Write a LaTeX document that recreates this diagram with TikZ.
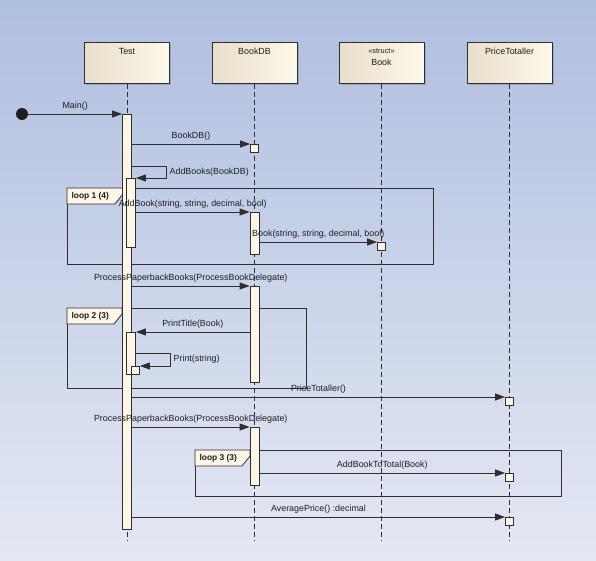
\documentclass[tikz,border=0pt]{standalone}
\usepackage{fontspec}
\setmainfont{Liberation Sans}
\usepackage{xcolor}
\usetikzlibrary{arrows.meta, shadows}

\definecolor{bgT}{HTML}{AFBFE0}
\definecolor{bgB}{HTML}{E4E8F3}
\definecolor{headL}{HTML}{E8DECB}
\definecolor{headR}{HTML}{FEF8EA}
\definecolor{cream}{HTML}{FDF6E6}
\definecolor{ink}{HTML}{2E2E2E}
\definecolor{txt}{HTML}{1E1E1E}

\begin{document}
\begin{tikzpicture}[x=1pt, y=-1pt, font=\fontsize{8.9}{10}\selectfont, text=txt]
	\tikzstyle{head}=[draw=ink, line width=0.8pt, left color=headL, right color=headR, minimum width=85pt, minimum height=41pt, anchor=north, drop shadow={shadow xshift=1.5pt, shadow yshift=-1.5pt, opacity=0.45}]
	\tikzstyle{lifeline}=[draw=ink, line width=0.8pt, dash pattern=on 5pt off 3pt]
	\tikzstyle{act}=[draw=ink, line width=0.8pt, fill=cream, minimum width=9pt, inner sep=0pt, anchor=north]
	\tikzstyle{stub}=[act, minimum width=8pt, minimum height=8pt]
	\tikzstyle{msg}=[draw=ink, line width=0.8pt, -{Triangle[length=10pt,width=7pt]}]
	\tikzstyle{loopframe}=[draw=ink, line width=0.8pt, anchor=north west, inner sep=0pt]
	\tikzstyle{tag}=[draw=ink, line width=0.8pt, fill=cream]
	\tikzstyle{tagtext}=[anchor=west, font=\bfseries\fontsize{8.4}{9}\selectfont]

	\fill[top color=bgT, bottom color=bgB] (0,0) rectangle (596,560);
	\useasboundingbox (0,0) rectangle (596,560);

	% loops
	\node[loopframe, minimum width=366pt, minimum height=76pt] (loopA) at (67,188) {};
	\draw[tag] (loopA.north west) -- ++(56,0) -- ++(0,6) -- ++(-8,10) -- ++(-48,0) -- cycle;
	\node[tagtext] (loopAtxt) at ([xshift=1pt, yshift=-8pt]loopA.north west) {loop 1 (4)};

	\node[loopframe, minimum width=239pt, minimum height=80pt] (loopB) at (67,308) {};
	\draw[tag] (loopB.north west) -- ++(55,0) -- ++(0,6) -- ++(-8,10) -- ++(-47,0) -- cycle;
	\node[tagtext] (loopBtxt) at ([xshift=1pt, yshift=-8pt]loopB.north west) {loop 2 (3)};

	\node[loopframe, minimum width=366pt, minimum height=46pt] (loopC) at (195,450) {};
	\draw[tag] (loopC.north west) -- ++(55,0) -- ++(0,6) -- ++(-8,10) -- ++(-47,0) -- cycle;
	\node[tagtext] (loopCtxt) at ([xshift=1pt, yshift=-8pt]loopC.north west) {loop 3 (3)};

	% lifelines
	\node[head, label={[anchor=north, yshift=-3pt]north:Test}] (test) at (127,42) {};
	\node[head, label={[anchor=north, yshift=-3pt]north:BookDB}] (bookdb) at (254.5,42) {};
	\node[head, label={[anchor=north, yshift=-3pt, align=center]north:{\fontsize{7.4}{8}\selectfont «struct»}\\[2pt]Book}] (book) at (381.5,42) {};
	\node[head, label={[anchor=north, yshift=-3pt]north:PriceTotaller}] (total) at (509.5,42) {};
	\coordinate (bottom) at (0,540);
	\foreach \n in {test,bookdb,book,total}
		\draw[lifeline] (\n.south) -- (\n.south |- bottom);

	% activations
	\node[act, minimum height=415pt] (aTest) at (127,114) {};
	\node[stub] (sDB) at (254.5,144) {};
	\node[act, minimum height=69pt] (aAdd) at (131,178) {};
	\node[act, minimum height=42pt] (aDB1) at (254.5,212) {};
	\node[stub] (sBook) at (381.5,242) {};
	\node[act, minimum height=96pt] (aDB2) at (254.5,286) {};
	\node[act, minimum height=42pt] (aPrint) at (131,332) {};
	\node[stub] (sPrint) at (135.5,366) {};
	\node[stub] (sPT1) at (509.5,397) {};
	\node[act, minimum height=58pt] (aDB3) at (254.5,427) {};
	\node[stub] (sPT2) at (509.5,473) {};
	\node[stub] (sPT3) at (509.5,517) {};

	% messages
	\node[circle, fill=txt, minimum size=12pt, inner sep=0pt] (init) at (22,114) {};
	\draw[msg] (init) -- node[above]{Main()} (aTest.north west);
	\draw[msg] (aTest.east |- sDB.north) -- node[above]{BookDB()} (sDB.north west);
	\draw[msg] (aTest.east |- 0,166) -- ++(34,0) |- node[pos=0.25, right]{AddBooks(BookDB)} (aAdd.north east);
	\draw[msg] (aAdd.east |- aDB1.north) -- node[above]{AddBook(string, string, decimal, bool)} (aDB1.north west);
	\draw[msg] (aDB1.east |- sBook.north) -- node[above]{Book(string, string, decimal, bool)} (sBook.north west);
	\draw[msg] (aTest.east |- aDB2.north) -- node[above]{ProcessPaperbackBooks(ProcessBookDelegate)} (aDB2.north west);
	\draw[msg] (aDB2.west |- aPrint.north) -- node[above]{PrintTitle(Book)} (aPrint.north east);
	\draw[msg] (aPrint.east |- 0,353) -- ++(34,0) |- node[pos=0.25, right]{Print(string)} (sPrint.north east);
	\draw[msg] (aTest.east |- sPT1.north) -- node[above]{PriceTotaller()} (sPT1.north west);
	\draw[msg] (aTest.east |- aDB3.north) -- node[above]{ProcessPaperbackBooks(ProcessBookDelegate)} (aDB3.north west);
	\draw[msg] (aDB3.east |- sPT2.north) -- node[above]{AddBookToTotal(Book)} (sPT2.north west);
	\draw[msg] (aTest.east |- sPT3.north) -- node[above]{AveragePrice() :decimal} (sPT3.north west);
\end{tikzpicture}
\end{document}
